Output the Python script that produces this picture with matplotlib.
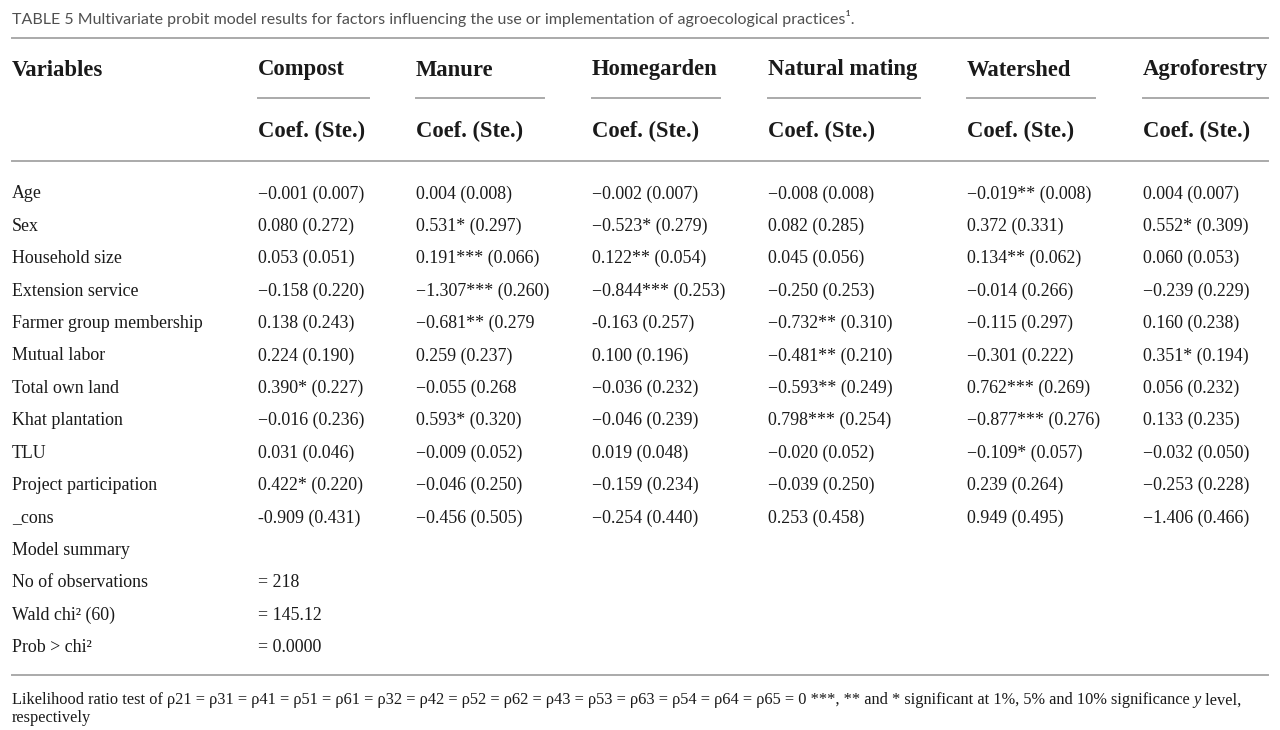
import matplotlib
matplotlib.use("Agg")
import matplotlib.pyplot as plt

title = "TABLE 5 Multivariate probit model results for factors influencing the use or implementation of agroecological practices\u00b9."
columns = ["Compost", "Manure", "Homegarden", "Natural mating", "Watershed", "Agroforestry"]
sub_header = "Coef. (Ste.)"
variables = ["Age", "Sex", "Household size", "Extension service", "Farmer group membership",
             "Mutual labor", "Total own land", "Khat plantation", "TLU", "Project participation", "_cons"]

compost = ["\u22120.001 (0.007)", "0.080 (0.272)", "0.053 (0.051)", "\u22120.158 (0.220)", "0.138 (0.243)",
           "0.224 (0.190)", "0.390* (0.227)", "\u22120.016 (0.236)", "0.031 (0.046)", "0.422* (0.220)",
           "-0.909 (0.431)"]
manure = ["0.004 (0.008)", "0.531* (0.297)", "0.191*** (0.066)", "\u22121.307*** (0.260)", "\u22120.681** (0.279",
          "0.259 (0.237)", "\u22120.055 (0.268", "0.593* (0.320)", "\u22120.009 (0.052)", "\u22120.046 (0.250)",
          "\u22120.456 (0.505)"]
homegarden = ["\u22120.002 (0.007)", "\u22120.523* (0.279)", "0.122** (0.054)", "\u22120.844*** (0.253)",
              "-0.163 (0.257)", "0.100 (0.196)", "\u22120.036 (0.232)", "\u22120.046 (0.239)", "0.019 (0.048)",
              "\u22120.159 (0.234)", "\u22120.254 (0.440)"]
natural_mating = ["\u22120.008 (0.008)", "0.082 (0.285)", "0.045 (0.056)", "\u22120.250 (0.253)",
                  "\u22120.732** (0.310)", "\u22120.481** (0.210)", "\u22120.593** (0.249)", "0.798*** (0.254)",
                  "\u22120.020 (0.052)", "\u22120.039 (0.250)", "0.253 (0.458)"]
watershed = ["\u22120.019** (0.008)", "0.372 (0.331)", "0.134** (0.062)", "\u22120.014 (0.266)",
             "\u22120.115 (0.297)", "\u22120.301 (0.222)", "0.762*** (0.269)", "\u22120.877*** (0.276)",
             "\u22120.109* (0.057)", "0.239 (0.264)", "0.949 (0.495)"]
agroforestry = ["0.004 (0.007)", "0.552* (0.309)", "0.060 (0.053)", "\u22120.239 (0.229)", "0.160 (0.238)",
                "0.351* (0.194)", "0.056 (0.232)", "0.133 (0.235)", "\u22120.032 (0.050)", "\u22120.253 (0.228)",
                "\u22121.406 (0.466)"]

summary_labels = ["Model summary", "No of observations", "Wald chi\u00b2 (60)", "Prob > chi\u00b2"]
summary_values = ["", "= 218", "= 145.12", "= 0.0000"]

note_a = ("Likelihood ratio test of \u03c121 = \u03c131 = \u03c141 = \u03c151 = \u03c161 = \u03c132 = \u03c142 = "
          "\u03c152 = \u03c162 = \u03c143 = \u03c153 = \u03c163 = \u03c154 = \u03c164 = \u03c165 = 0 ***, ** and * "
          "significant at 1%, 5% and 10% significance ")
note_b = "y"
note_c = " level,"
note_d = "respectively"

col_x = [258, 416, 592, 768, 967, 1143]
col_end = [369, 544, 720, 920, 1095, 1268]
col_data = [compost, manure, homegarden, natural_mating, watershed, agroforestry]

serif = "Liberation Serif"
txt = "#1a1a1a"
rule = "#aaaaaa"
body = 12.9
head = 16.3
note = 11.75

fig = plt.figure(figsize=(12.8, 7.3), dpi=100)
ax = fig.add_axes([0, 0, 1, 1])
ax.set_xlim(0, 1280)
ax.set_ylim(730, 0)
ax.axis("off")

# title: scale font so it spans roughly the same width as the original
fig.canvas.draw()
r = fig.canvas.get_renderer()
tt = ax.text(12, 24, title, family="Lato", fontsize=12, color="#505050", va="baseline", ha="left")
w = tt.get_window_extent(renderer=r).width
tt.set_fontsize(12 * 843 / w)
ax.plot([12, 1268], [38, 38], color=rule, lw=1.4)

ax.text(12, 75.5, "Variables", family=serif, weight="bold", fontsize=head, color=txt, va="baseline")
for x0, x1, name in zip(col_x, col_end, columns):
    ax.text(x0, 75.5, name, family=serif, weight="bold", fontsize=head, color=txt, va="baseline")
    ax.plot([x0, x1], [98, 98], color=rule, lw=1.4)
    ax.text(x0, 137.5, sub_header, family=serif, weight="bold", fontsize=head, color=txt, va="baseline")
ax.plot([12, 1268], [161, 161], color=rule, lw=1.4)

y0, dy = 198.5, 32.4
for i, var in enumerate(variables):
    y = y0 + i * dy
    ax.text(12, y, var, family=serif, fontsize=body, color=txt, va="baseline")
    for x0, col in zip(col_x, col_data):
        ax.text(x0, y, col[i], family=serif, fontsize=body, color=txt, va="baseline")

for j, (lab, val) in enumerate(zip(summary_labels, summary_values)):
    y = y0 + (len(variables) + j) * dy
    ax.text(12, y, lab, family=serif, fontsize=body, color=txt, va="baseline")
    ax.text(col_x[0], y, val, family=serif, fontsize=body, color=txt, va="baseline")

ax.plot([12, 1268], [675, 675], color=rule, lw=1.4)

t1 = ax.text(12, 704.5, note_a, family=serif, fontsize=note, color=txt, va="baseline")
bb = t1.get_window_extent(renderer=r)
xe = ax.transData.inverted().transform((bb.x1, bb.y0))[0]
t2 = ax.text(xe, 704.5, note_b, family=serif, style="italic", fontsize=note, color=txt, va="baseline")
bb2 = t2.get_window_extent(renderer=r)
xe2 = ax.transData.inverted().transform((bb2.x1, bb2.y0))[0]
ax.text(xe2, 704.5, note_c, family=serif, fontsize=note, color=txt, va="baseline")
ax.text(12, 722, note_d, family=serif, fontsize=note, color=txt, va="baseline")

fig.savefig("out.png", dpi=100, facecolor="white")
